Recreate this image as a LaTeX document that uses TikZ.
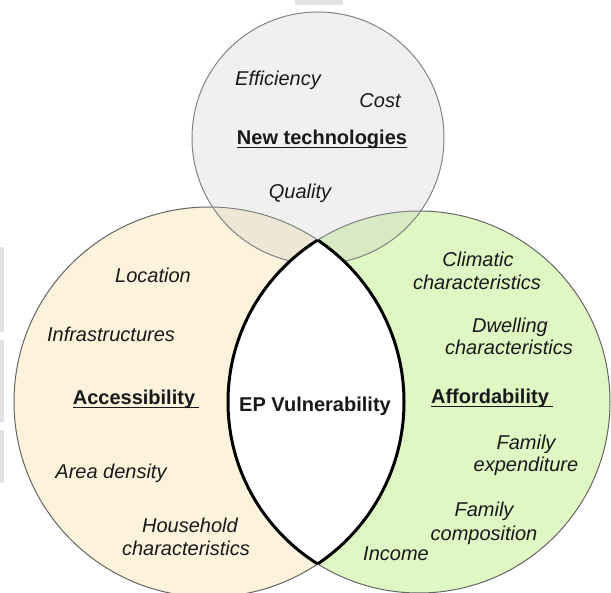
\documentclass[tikz,border=0pt]{standalone}
\usepackage{fontspec}
\setmainfont{Liberation Sans}
\definecolor{accfill}{RGB}{253,243,220}
\definecolor{afffill}{RGB}{222,247,195}
\definecolor{topfill}{RGB}{200,200,200}
\definecolor{rimgray}{RGB}{100,100,100}
\definecolor{toprim}{RGB}{130,130,130}
\definecolor{strip}{RGB}{226,226,226}
\definecolor{txt}{RGB}{25,25,25}
\tikzset{
  item/.style={font=\fontsize{20}{23}\selectfont\itshape, text=txt, inner sep=0pt, anchor=base},
  head/.style={font=\fontsize{20}{23}\selectfont\bfseries, text=txt, inner sep=0pt, anchor=base},
  uline/.style={line width=1pt, draw=txt},
  rim/.style={draw=rimgray, line width=1pt},
}
\begin{document}
\begin{tikzpicture}[x=1pt,y=-1pt]
\useasboundingbox (0,0) rectangle (611,593);
% scan artefact strips
\fill[strip] (0,247) rectangle (4,332);
\fill[strip] (0,340) rectangle (4,422);
\fill[strip] (0,430) rectangle (4,483);
\fill[strip] (295,0) rectangle (343,5);
% circles
\fill[accfill] (209,402) circle (195);
\draw[rim] (209,402) circle (195);
\fill[afffill] (419,402) circle (191);
\draw[rim] (419,402) circle (191);
\fill[topfill, fill opacity=0.27] (318,138) circle (126);
\draw[toprim, line width=1pt] (318,138) circle (126);
% lens
\begin{scope}
  \clip (209,402) circle (195);
  \fill[white] (419,402) circle (191);
  \draw[black, line width=3pt] (419,402) circle (191);
\end{scope}
\begin{scope}
  \clip (419,402) circle (191);
  \draw[black, line width=3pt] (209,402) circle (195);
\end{scope}
% top circle texts
\node[item] (eff) at (278,86) {Efficiency};
\node[item] (cost) at (380,108) {Cost};
\node[head] (newtech) at (322,145) {New technologies};
\draw[uline] ([yshift=-2.5pt]newtech.base west) -- ([yshift=-2.5pt]newtech.base east);
\node[item] (qual) at (300,199) {Quality};
% left circle texts
\node[item] (loc) at (153,283) {Location};
\node[item] (infra) at (111,342) {Infrastructures};
\node[head] (acc) at (134,405) {Accessibility};
\draw[uline] ([yshift=-2.5pt]acc.base west) -- ([yshift=-2.5pt,xshift=4pt]acc.base east);
\node[item] (area) at (111,479) {Area density};
\node[item] (hh1) at (190,533) {Household};
\node[item] (hh2) at (186,555) {characteristics};
% right circle texts
\node[item] (cl1) at (478,267) {Climatic};
\node[item] (cl2) at (477,290) {characteristics};
\node[item] (dw1) at (510,333) {Dwelling};
\node[item] (dw2) at (509,355) {characteristics};
\node[head] (aff) at (490,404) {Affordability};
\draw[uline] ([yshift=-2.5pt]aff.base west) -- ([yshift=-2.5pt,xshift=4pt]aff.base east);
\node[item] (fe1) at (526,450) {Family};
\node[item] (fe2) at (526,472) {expenditure};
\node[item] (fc1) at (484,517) {Family};
\node[item] (fc2) at (484,540) {composition};
\node[item] (inc) at (396,561) {Income};
% centre
\node[head] (ep) at (315,412) {EP Vulnerability};
\end{tikzpicture}
\end{document}
